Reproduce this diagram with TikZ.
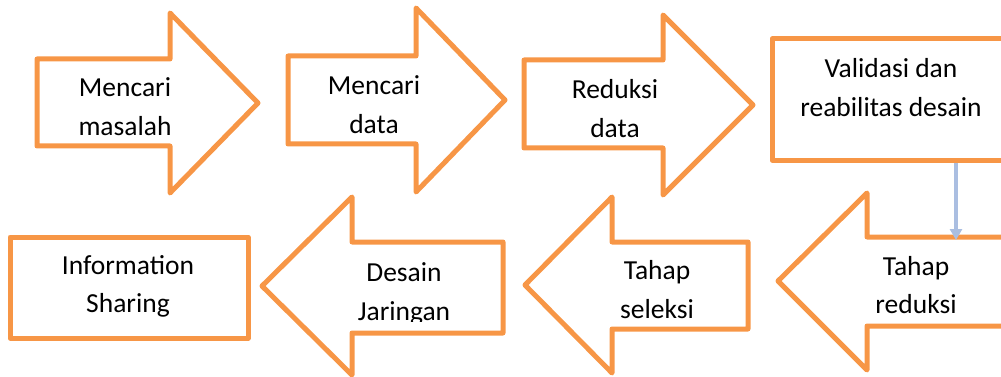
\documentclass[tikz,border=0pt]{standalone}
\usepackage{fontspec}
\setmainfont{Carlito}
\usetikzlibrary{arrows.meta}
\definecolor{orangeline}{HTML}{F79646}
\definecolor{bluecon}{RGB}{170,190,225}
\begin{document}
\begin{tikzpicture}[x=1pt,y=-1pt,
  shapeline/.style={draw=orangeline,line width=5pt,line join=round},
  lbl/.style={align=center,inner sep=0pt,font=\fontsize{27.5}{38.5}\selectfont}]
\useasboundingbox (0,0) rectangle (1001,377);
\clip (0,0) rectangle (1001,377);
% top row
\draw[shapeline] (37,59) -- (170,59) -- (170,13) -- (258,103) -- (170,193) -- (170,146) -- (37,146) -- cycle;
\node[lbl] (t1) at (125,106.5) {Mencari\\masalah};
\draw[shapeline] (288,56) -- (416,56) -- (416,8) -- (505,100) -- (416,192) -- (416,144) -- (288,144) -- cycle;
\node[lbl] (t2) at (374,104.5) {Mencari\\data};
\draw[shapeline] (524,60) -- (663,60) -- (663,15) -- (753,105) -- (663,195) -- (663,148) -- (524,148) -- cycle;
\node[lbl] (t3) at (615,108.5) {Reduksi\\data};
\draw[shapeline] (1015,39) -- (772,39) -- (772,160) -- (1015,160);
\node[lbl] (t4) at (891,87.5) {Validasi dan\\reabilitas desain};
% bottom row
\draw[shapeline] (1015,237) -- (867,237) -- (867,193) -- (778,281) -- (867,370) -- (867,326) -- (1015,326);
\node[lbl] (t8) at (916,285) {Tahap\\reduksi};
\draw[shapeline] (748,242) -- (612,242) -- (612,197) -- (525,285) -- (612,373) -- (612,329) -- (748,329) -- cycle;
\node[lbl] (t7) at (657,289.5) {Tahap\\seleksi};
\draw[shapeline] (503,242) -- (352,242) -- (352,197) -- (262,286) -- (352,375) -- (352,333) -- (503,333) -- cycle;
\begin{scope}
\clip (352,245) rectangle (503,321);
\node[lbl] (t6) at (404,294) {Desain\\Jaringan};
\end{scope}
\draw[shapeline] (10,237) rectangle (248,338);
\node[lbl] (t5) at (128,286.5) {Information\\Sharing};
% connector
\coordinate (c1) at (956,163);
\coordinate (c2) at (956,240);
\draw[bluecon,line width=3.5pt,-{Triangle[width=12pt,length=11pt]}] (c1) -- (c2);
\end{tikzpicture}
\end{document}
